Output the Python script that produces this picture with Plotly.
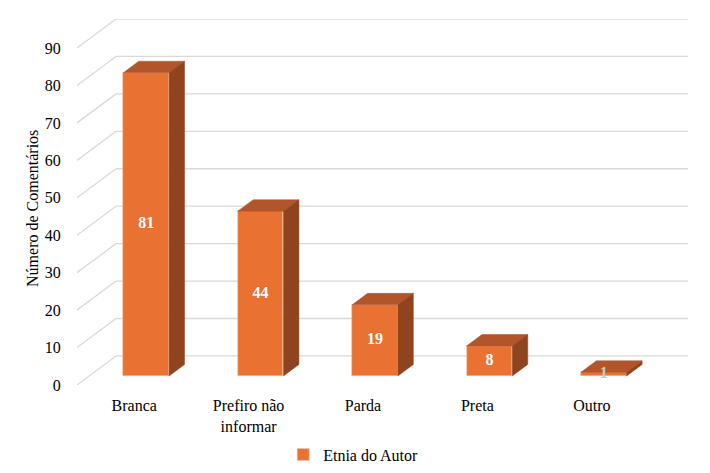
import plotly.graph_objects as go

categories = ["Branca", "Prefiro não<br>informar", "Parda", "Preta", "Outro"]
values = [81, 44, 19, 8, 1]
y_ticks = [0, 10, 20, 30, 40, 50, 60, 70, 80, 90]
series_name = "Etnia do Autor"
y_title = "Número de Comentários"

# 3D projection offsets (data units)
FRONT_DX, FRONT_DY = -0.105, -2.41
BACK_DX, BACK_DY = 0.236, 5.35
DEPTH_DX, DEPTH_DY = 0.135, 3.07
BAR_W = 0.4
X_MIN = -0.5 + FRONT_DX
X_MAX = len(categories) - 0.5 + BACK_DX
BACK_LEFT = -0.5 + BACK_DX
Y_MIN = y_ticks[0] + FRONT_DY
Y_MAX = y_ticks[-1] + BACK_DY

C_FRONT = "#E97132"
C_TOP = "#B3552A"
C_SIDE = "#8F441F"
GRID = "#D9D9D9"
FONT = "Liberation Serif, serif"

xs = list(range(len(categories)))

fig = go.Figure()

# front faces
fig.add_trace(go.Bar(x=xs, y=values, width=BAR_W, name=series_name,
                     marker=dict(color=C_FRONT, line=dict(color="#F4C4A4", width=0.6)),
                     showlegend=True, hoverinfo="skip"))

# top faces
tx, ty = [], []
for i, v in zip(xs, values):
    x0, x1 = i - BAR_W / 2, i + BAR_W / 2
    tx += [x0, x0 + DEPTH_DX, x1 + DEPTH_DX, x1, x0, None]
    ty += [v, v + DEPTH_DY, v + DEPTH_DY, v, v, None]
fig.add_trace(go.Scatter(x=tx, y=ty, mode="lines", fill="toself", fillcolor=C_TOP,
                         line=dict(color=C_TOP, width=0.5), showlegend=False, hoverinfo="skip"))

# side faces
sx, sy = [], []
for i, v in zip(xs, values):
    x1 = i + BAR_W / 2
    sx += [x1, x1, x1 + DEPTH_DX, x1 + DEPTH_DX, x1, None]
    sy += [0, v, v + DEPTH_DY, DEPTH_DY, 0, None]
fig.add_trace(go.Scatter(x=sx, y=sy, mode="lines", fill="toself", fillcolor=C_SIDE,
                         line=dict(color=C_SIDE, width=0.5), showlegend=False, hoverinfo="skip"))

# data labels
fig.add_trace(go.Scatter(x=xs, y=[v / 2 for v in values], mode="text",
                         text=[str(v) for v in values],
                         textfont=dict(family=FONT, size=16,
                                       color=["white" if v > 3 else "#C8C8C8" for v in values]),
                         texttemplate="<b>%{text}</b>",
                         showlegend=False, hoverinfo="skip", cliponaxis=False))

# gridlines (back wall + side diagonals)
shapes = []
for t in y_ticks:
    shapes.append(dict(type="line", xref="x", yref="y", x0=BACK_LEFT, x1=X_MAX,
                       y0=t + BACK_DY, y1=t + BACK_DY, line=dict(color=GRID, width=1.3), layer="below"))
    shapes.append(dict(type="line", xref="x", yref="y", x0=X_MIN, x1=BACK_LEFT,
                       y0=t + FRONT_DY, y1=t + BACK_DY, line=dict(color=GRID, width=1.3), layer="below"))

fig.update_layout(
    template="none",
    width=710, height=473,
    margin=dict(l=77, r=22, t=19, b=88, autoexpand=False),
    paper_bgcolor="white", plot_bgcolor="white",
    shapes=shapes,
    bargap=0,
    xaxis=dict(range=[X_MIN, X_MAX], showgrid=False, zeroline=False, showline=False,
               automargin=False,
               tickvals=[i + FRONT_DX for i in xs], ticktext=categories,
               ticks="outside", ticklen=6, tickcolor="rgba(0,0,0,0)",
               tickfont=dict(family=FONT, size=16, color="black")),
    yaxis=dict(range=[Y_MIN, Y_MAX], showgrid=False, zeroline=False, showline=False,
               automargin=False,
               tickvals=[t + FRONT_DY for t in y_ticks], ticktext=[str(t) for t in y_ticks],
               ticks="outside", ticklen=12, tickcolor="rgba(0,0,0,0)",
               tickfont=dict(family=FONT, size=16, color="black")),
    legend=dict(orientation="h", x=0.452, xanchor="center", y=-0.19, yanchor="middle",
                font=dict(family=FONT, size=16, color="black"), itemwidth=30),
    annotations=[dict(text=y_title, xref="paper", yref="paper", x=-0.072, y=0.481,
                      textangle=-90, showarrow=False, xanchor="center", yanchor="middle",
                      font=dict(family=FONT, size=16, color="black"))],
)

fig.write_html("out.html", config={"displayModeBar": False},
               post_script="document.body.style.margin='0';")
